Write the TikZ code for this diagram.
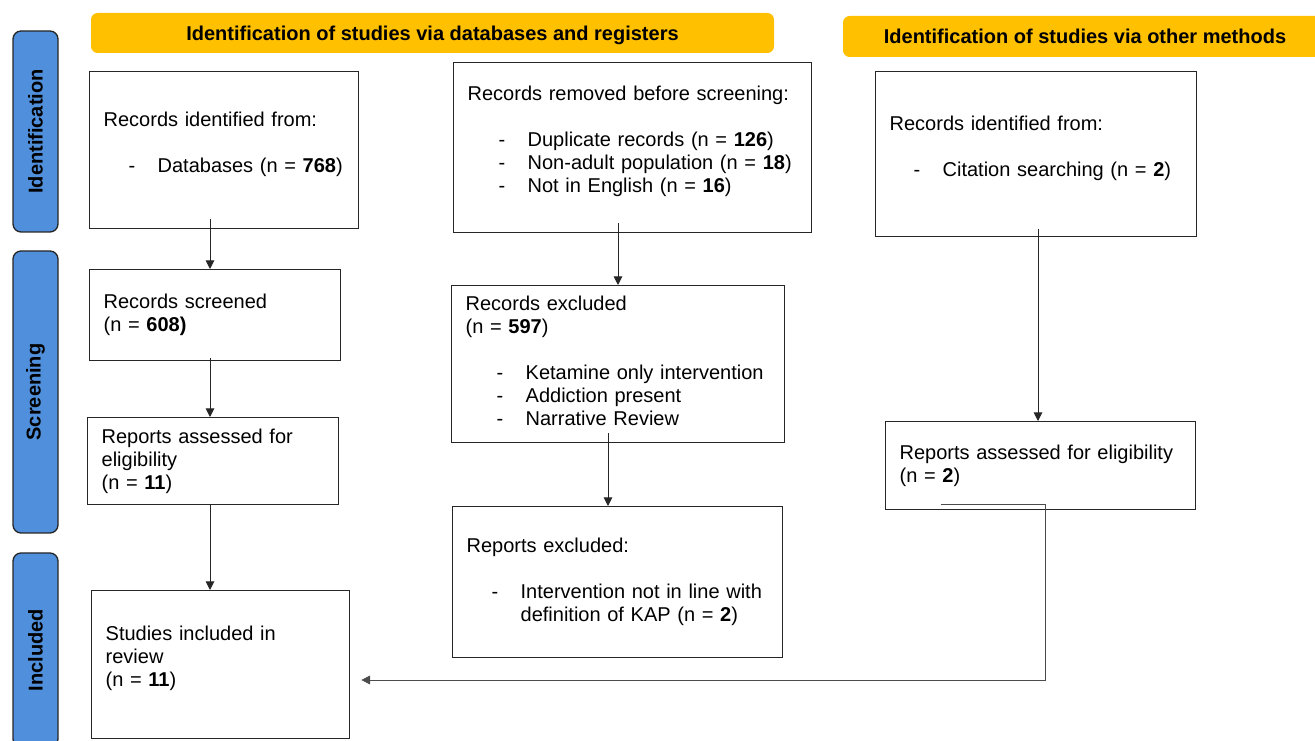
\documentclass[tikz,border=0pt]{standalone}
\usepackage{fontspec}
\setmainfont{Liberation Sans}
\usepackage{tikz}
\usetikzlibrary{arrows.meta}

\definecolor{stageblue}{HTML}{4F8FDB}
\definecolor{bannergold}{HTML}{FFC000}
\newcommand{\bodyfont}{\fontsize{15pt}{17.25pt}\selectfont}
\newcommand{\ditem}[2]{\hspace*{#1}\makebox[21.75pt][l]{-}#2}
\newcommand{\lift}[1]{\rule[-#1]{0pt}{#1}}

\begin{document}
\begin{tikzpicture}[x=0.75pt, y=-0.75pt,
    box/.style n args={2}{draw=black!85, line width=1pt, anchor=north west,
        minimum width=#1*0.75pt, minimum height=#2*0.75pt,
        text width=#1*0.75pt-21pt, inner xsep=10.5pt, align=left, font=\bodyfont},
    stage/.style={draw=black!85, line width=1pt, fill=stageblue, rounded corners=6pt,
        rotate=90, minimum height=45*0.75pt, font=\bfseries\bodyfont},
    banner/.style={fill=bannergold, rounded corners=5pt, text depth=0pt, font=\bfseries\bodyfont},
    arr/.style={-{Triangle[length=6.5pt,width=6.5pt]}, draw=black!85, line width=0.75pt}]

    \useasboundingbox (0,0) rectangle (1315,741);

    % Stage labels
    \foreach \name/\cy/\len/\lab in {idstage/131.5/201/Identification, scrstage/392/282/Screening, incstage/650/194/Included}{
        \node[stage, minimum width=\len*0.75pt] (\name) at (35.5,\cy) {\lab};
    }

    % Banners
    \node[banner, minimum width=683*0.75pt, minimum height=40*0.75pt] (dbhead) at (432.5,33) {Identification of studies via databases and registers};
    \node[banner, minimum width=484*0.75pt, minimum height=41*0.75pt] (otherhead) at (1085,36.5) {Identification of studies via other methods};

    % Boxes
    \node[box={269}{157}] (identified) at (89,71) {Records identified from:\\[17.25pt]\ditem{18.75pt}{Databases (n = \textbf{768})}\lift{12pt}};
    \node[box={358}{170}] (removed) at (453,62) {Records removed before screening:\\[17.25pt]\ditem{23.25pt}{Duplicate records (n = \textbf{126})}\\\ditem{23.25pt}{Non-adult population (n = \textbf{18})}\\\ditem{23.25pt}{Not in English (n = \textbf{16})}\lift{12pt}};
    \node[box={321}{165}] (otherid) at (875,71) {Records identified from:\\[17.25pt]\ditem{18pt}{Citation searching (n = \textbf{2})}\lift{12pt}};
    \node[box={251}{91}] (screened) at (89,269) {Records screened\\(n = \textbf{608)}};
    \node[box={333}{157}] (excluded) at (451,285) {Records excluded\\(n = \textbf{597})\\[17.25pt]\ditem{23.25pt}{Ketamine only intervention}\\\ditem{23.25pt}{Addiction present}\\\ditem{23.25pt}{Narrative Review}\lift{4.5pt}};
    \node[box={251}{87}] (assessed) at (87,417) {Reports assessed for\\eligibility\\(n = \textbf{11})};
    \node[box={330}{151}] (repexcl) at (452,506) {Reports excluded:\\[17.25pt]\ditem{18.75pt}{Intervention not in line with}\\\hspace*{40.5pt}definition of KAP (n = \textbf{2})};
    \node[box={310}{88}] (otherassess) at (885,421) {Reports assessed for eligibility\\(n = \textbf{2})};
    \node[box={258}{148}] (included) at (91,590) {Studies included in\\review\\(n = \textbf{11})\lift{12pt}};

    % Draw arrows
    \coordinate (lane1) at (210,0);
    \coordinate (lane2) at (618,0);
    \coordinate (lane3) at (608,0);
    \coordinate (lane4) at (1038,0);
    \coordinate (back) at (1045,680);
    \draw[arr] ([yshift=7.5pt]identified.south -| lane1) -- (screened.north -| lane1);
    \draw[arr] ([yshift=2.25pt]screened.south -| lane1) -- (assessed.north -| lane1);
    \draw[arr] (assessed.south -| lane1) -- (included.north -| lane1);
    \draw[arr] ([yshift=7.5pt]removed.south -| lane2) -- (excluded.north -| lane2);
    \draw[arr] ([yshift=7.5pt]excluded.south -| lane3) -- (repexcl.north -| lane3);
    \draw[arr] ([yshift=6pt]otherid.south -| lane4) -- (otherassess.north -| lane4);
    \draw[arr, draw=black!70, line width=0.6pt] ([shift={(-100,-6)}]otherassess.south) -| (back) -- ([xshift=8.25pt]included.east |- back);
\end{tikzpicture}
\end{document}
